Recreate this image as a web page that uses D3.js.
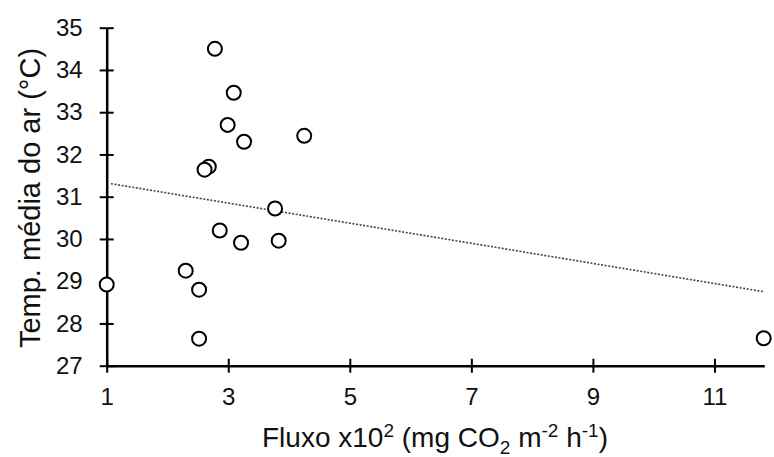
<!DOCTYPE html>
<html>
<head>
<meta charset="utf-8">
<script src="https://cdn.jsdelivr.net/npm/d3@7"></script>
<style>
  body { margin: 0; background: #fff; }
  svg text { font-family: "Liberation Sans", Arial, sans-serif; fill: #111; }
</style>
</head>
<body>
<div id="chart"></div>
<script>
// data
var fluxo = [2.78, 3.09, 2.99, 3.26, 4.25, 2.68, 2.61, 3.77, 2.86, 3.21, 3.83, 2.30, 2.52, 2.52, 1.00, 11.81];
var temp  = [34.50, 33.46, 32.70, 32.30, 32.44, 31.71, 31.64, 30.72, 30.20, 29.91, 29.96, 29.25, 28.80, 27.64, 28.92, 27.65];
var xDomain = [1, 11.82];
var yDomain = [27, 35];
var xTicks = [1, 3, 5, 7, 9, 11];
var yTicks = [27, 28, 29, 30, 31, 32, 33, 34, 35];

var width = 774, height = 457;
var margin = { top: 27.7, right: 9.7, bottom: 91.3, left: 106.7 };

var svg = d3.select("#chart").append("svg")
    .attr("width", width)
    .attr("height", height);

var x = d3.scaleLinear().domain(xDomain).range([margin.left, width - margin.right]);
var y = d3.scaleLinear().domain(yDomain).range([height - margin.bottom, margin.top]);

// linear trend (least squares)
var n = fluxo.length;
var mx = d3.mean(fluxo), my = d3.mean(temp);
var sxy = 0, sxx = 0;
for (var i = 0; i < n; i++) {
    sxy += (fluxo[i] - mx) * (temp[i] - my);
    sxx += (fluxo[i] - mx) * (fluxo[i] - mx);
}
var slope = sxy / sxx, icpt = my - slope * mx;

svg.append("line")
    .attr("x1", x(xDomain[0] + 0.07)).attr("y1", y(icpt + slope * (xDomain[0] + 0.07)))
    .attr("x2", x(xDomain[1])).attr("y2", y(icpt + slope * xDomain[1]))
    .attr("stroke", "#444")
    .attr("stroke-width", 1.6)
    .attr("stroke-dasharray", "2,1.6");

// Y axis
var gy = svg.append("g")
    .attr("transform", "translate(" + margin.left + ",0)")
    .call(d3.axisLeft(y).tickValues(yTicks).tickFormat(d3.format("d")).tickSizeOuter(0));
gy.select(".domain").attr("stroke", "#000").attr("stroke-width", 2.5);
gy.selectAll(".tick line").attr("x1", -7).attr("x2", 7).attr("stroke", "#000").attr("stroke-width", 2);
gy.selectAll(".tick text")
    .attr("x", -24)
    .style("font-size", "24px");

// X axis
var gx = svg.append("g")
    .attr("transform", "translate(0," + (height - margin.bottom) + ")")
    .call(d3.axisBottom(x).tickValues(xTicks).tickFormat(d3.format("d")).tickSizeOuter(0));
gx.select(".domain").attr("stroke", "#000").attr("stroke-width", 2.5);
gx.selectAll(".tick line").attr("y1", -7).attr("y2", 7).attr("stroke", "#000").attr("stroke-width", 2);
gx.selectAll(".tick text")
    .attr("y", 22)
    .attr("dy", "0.71em")
    .style("font-size", "24px");

// points
svg.selectAll("circle.pt")
    .data(fluxo)
    .enter().append("circle")
    .attr("class", "pt")
    .attr("cx", function (d) { return x(d); })
    .attr("cy", function (d, i) { return y(temp[i]); })
    .attr("r", 7)
    .attr("fill", "#fff")
    .attr("stroke", "#000")
    .attr("stroke-width", 2);

// axis titles
var xt = svg.append("text")
    .attr("x", 435)
    .attr("y", 447)
    .attr("text-anchor", "middle")
    .style("font-size", "28px");
xt.append("tspan").text("Fluxo x10");
xt.append("tspan").attr("dy", -10).style("font-size", "19px").text("2");
xt.append("tspan").attr("dy", 10).text(" (mg CO");
xt.append("tspan").attr("dy", 7).style("font-size", "19px").text("2");
xt.append("tspan").attr("dy", -7).text(" m");
xt.append("tspan").attr("dy", -10).style("font-size", "19px").text("-2");
xt.append("tspan").attr("dy", 10).text(" h");
xt.append("tspan").attr("dy", -10).style("font-size", "19px").text("-1");
xt.append("tspan").attr("dy", 10).text(")");

svg.append("text")
    .attr("transform", "translate(40,198) rotate(-90)")
    .attr("text-anchor", "middle")
    .style("font-size", "29px")
    .text("Temp. média do ar (°C)");
</script>
</body>
</html>
